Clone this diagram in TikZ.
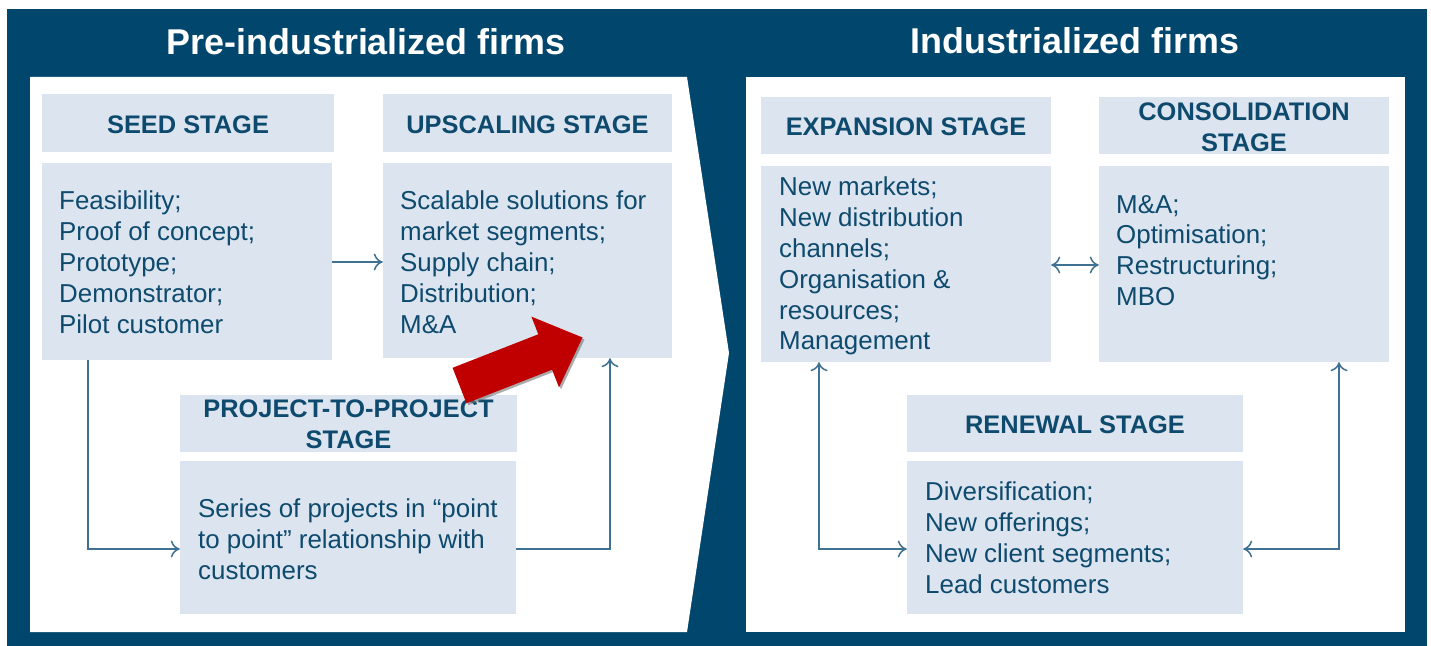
\documentclass[tikz,border=0pt]{standalone}
\usepackage{fontspec}
\setmainfont{Liberation Sans}
\usetikzlibrary{arrows.meta}
\definecolor{navy}{HTML}{00466D}
\definecolor{txtblue}{HTML}{0E4A6E}
\definecolor{boxfill}{HTML}{DCE5EF}
\definecolor{linkc}{HTML}{3E7192}
\definecolor{redarrow}{HTML}{C00000}
\tikzset{
  stagebox/.style={fill=boxfill, draw=none, inner sep=0pt},
  headtext/.style={text=txtblue, font=\fontsize{25.5}{31}\selectfont\bfseries, align=center, inner sep=0pt},
  bodytext/.style={text=txtblue, font=\fontsize{26}{31}\selectfont, align=left, inner sep=0pt, anchor=west},
  titletext/.style={text=white, font=\fontsize{36}{40}\selectfont\bfseries, inner sep=0pt},
  link/.style={draw=linkc, line width=1.5bp, -{To[length=9bp,width=17bp]}},
  dlink/.style={draw=linkc, line width=1.5bp, {To[length=9bp,width=17bp]}-{To[length=9bp,width=17bp]}}
}
\begin{document}
\begin{tikzpicture}[x=1bp,y=-1bp]
\useasboundingbox (0,0) rectangle (1431,646);
% background
\fill[navy] (7,9) rectangle (1427,648);
\fill[white] (30,77) -- (687,77) -- (729,353) -- (687,632) -- (30,632) -- cycle;
\fill[white] (746,77) rectangle (1405,632);
% titles
\node[titletext] (t1) at (366,42) {Pre-industrialized firms};
\node[titletext] (t2) at (1075,41) {Industrialized firms};
% left boxes
\node[stagebox, minimum width=292bp, minimum height=58bp] (seedh) at (188,123) {};
\node[headtext] at (188,125) {SEED STAGE};
\node[stagebox, minimum width=290bp, minimum height=197bp] (seedb) at (187,261.5) {};
\node[bodytext] at (59,262) {Feasibility;\\Proof of concept;\\Prototype;\\Demonstrator;\\Pilot customer};

\node[stagebox, minimum width=289bp, minimum height=58bp] (uph) at (527.5,123) {};
\node[headtext] at (527.5,125) {UPSCALING STAGE};
\node[stagebox, minimum width=289bp, minimum height=195bp] (upb) at (527.5,260.5) {};
\node[bodytext] at (400,262) {Scalable solutions for\\market segments;\\Supply chain;\\Distribution;\\M\&A};

\node[stagebox, minimum width=337bp, minimum height=57bp] (ph) at (348.5,423.5) {};
\node[headtext] at (348.5,424) {PROJECT-TO-PROJECT\\STAGE};
\node[stagebox, minimum width=336bp, minimum height=153bp] (pb) at (348,537.5) {};
\node[bodytext] at (198,539) {Series of projects in \char"201C point\\to point\char"201D{} relationship with\\customers};

% right boxes
\node[stagebox, minimum width=290bp, minimum height=57bp] (exh) at (906,125.5) {};
\node[headtext] at (906,126.5) {EXPANSION STAGE};
\node[stagebox, minimum width=290bp, minimum height=196bp] (exb) at (906,264) {};
\node[bodytext] at (779,266) {New markets;\\New distribution\\channels;\\Organisation \&\\resources;\\Management};

\node[stagebox, minimum width=290bp, minimum height=57bp] (coh) at (1244,125.5) {};
\node[headtext] at (1244,127) {CONSOLIDATION\\STAGE};
\node[stagebox, minimum width=290bp, minimum height=196bp] (cob) at (1244,264) {};
\node[bodytext] at (1116,250.5) {M\&A;\\Optimisation;\\Restructuring;\\MBO};

\node[stagebox, minimum width=336bp, minimum height=57bp] (reh) at (1075,423.5) {};
\node[headtext] at (1075,424.5) {RENEWAL STAGE};
\node[stagebox, minimum width=336bp, minimum height=153bp] (reb) at (1075,537.5) {};
\node[bodytext] at (925,538) {Diversification;\\New offerings;\\New client segments;\\Lead customers};

% connectors
\coordinate (c1) at (88,549);
\coordinate (c2) at (610,549);
\coordinate (c3) at (819,549);
\coordinate (c4) at (1339,549);
\draw[link] (seedb.east |- 0,262) -- (upb.west |- 0,262);
\draw[link] (seedb.south -| c1) -- (c1) -- (pb.west |- c1);
\draw[link] (pb.east |- c2) -- (c2) -- (upb.south -| c2);
\draw[dlink] (exb.east |- 0,265) -- (cob.west |- 0,265);
\draw[dlink] (exb.south -| c3) -- (c3) -- (reb.west |- c3);
\draw[dlink] (cob.south -| c4) -- (c4) -- (reb.east |- c4);

% red block arrow
\fill[black!55, opacity=0.6] (454.6,369.8) -- (540.3,336.3) -- (533.4,318.6) -- (584.5,339.5) -- (561,389.4) -- (554.1,371.7) -- (468.4,405.2) -- cycle;
\fill[redarrow] (452.6,367.8) -- (538.3,334.3) -- (531.4,316.6) -- (582.5,337.5) -- (559,387.4) -- (552.1,369.7) -- (466.4,403.2) -- cycle;
\end{tikzpicture}
\end{document}
